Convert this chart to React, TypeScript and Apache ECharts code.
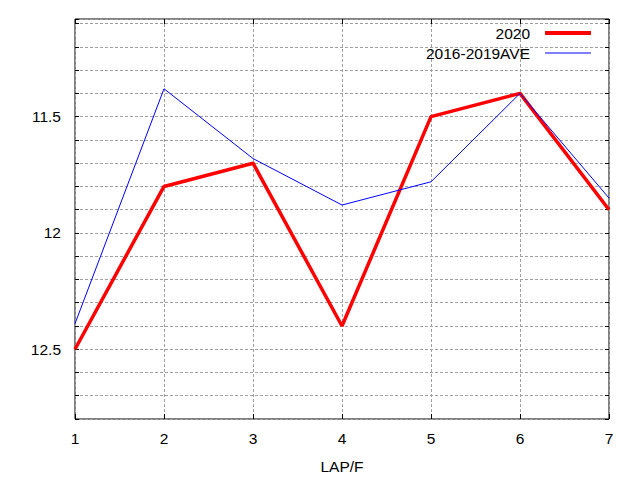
import React, { useEffect, useRef } from 'react';
import * as echarts from 'echarts';

// LAP/F の平均値（縦軸は反転）
const laps = [1, 2, 3, 4, 5, 6, 7];
const values2020 = [12.5, 11.8, 11.7, 12.4, 11.5, 11.4, 11.9];
const valuesAve = [12.39, 11.38, 11.68, 11.88, 11.78, 11.4, 11.85];
const seriesNames = ['2020', '2016-2019AVE'];

const FONT = '"Liberation Sans", Arial, sans-serif';
const FONT_SIZE = 15.5;
const GRID_COLOR = '#a0a0a0';

const yLabel = (v: number) => {
  const d = v * 2;
  return Math.abs(d - Math.round(d)) < 1e-6 ? String(Math.round(v * 10) / 10) : '';
};

const App: React.FC = () => {
  const chartRef = useRef<HTMLDivElement>(null);

  useEffect(() => {
    if (!chartRef.current) return;
    const chart = echarts.init(chartRef.current, undefined, { renderer: 'svg' });

    const yCommon = {
      type: 'value' as const,
      inverse: true,
      min: 11.08,
      max: 12.8,
      splitNumber: 17,
      minInterval: 0.1,
      maxInterval: 0.1,
      axisLine: { show: false },
      axisTick: { show: true, inside: true, length: 4, lineStyle: { color: '#000' } },
    };

    const option: echarts.EChartsOption = {
      animation: false,
      backgroundColor: '#fff',
      textStyle: { fontFamily: FONT },
      grid: {
        left: 75,
        right: 31,
        top: 19,
        bottom: 61,
        show: true,
        borderColor: '#000',
        borderWidth: 1,
        backgroundColor: 'transparent',
      },
      legend: {
        orient: 'vertical',
        align: 'right',
        right: 42,
        top: 20,
        itemWidth: 46,
        itemHeight: 14,
        itemGap: 4,
        data: [
          { name: seriesNames[0], lineStyle: { width: 4, color: '#ff0000' } },
          { name: seriesNames[1], lineStyle: { width: 1, color: '#0000ff' } },
        ],
        itemStyle: { opacity: 0 },
        textStyle: { fontFamily: FONT, fontSize: FONT_SIZE, color: '#000', padding: [0, 10, 0, 0] },
      },
      xAxis: [
        {
          type: 'value',
          min: 1,
          max: 7,
          interval: 1,
          name: 'LAP/F',
          nameLocation: 'middle',
          nameGap: 39,
          nameTextStyle: { fontFamily: FONT, fontSize: FONT_SIZE, color: '#000' },
          axisLine: { show: false },
          axisTick: { show: true, inside: true, length: 5, lineStyle: { color: '#000' } },
          axisLabel: { fontFamily: FONT, fontSize: FONT_SIZE, color: '#000', margin: 11 },
          splitLine: { show: true, lineStyle: { color: GRID_COLOR, type: [3, 2], width: 1 } },
        },
        {
          type: 'value',
          position: 'top',
          min: 1,
          max: 7,
          interval: 1,
          axisLine: { show: false },
          axisTick: { show: true, inside: true, length: 5, lineStyle: { color: '#000' } },
          axisLabel: { show: false },
          splitLine: { show: false },
        },
      ],
      yAxis: [
        {
          ...yCommon,
          position: 'left',
          axisLabel: {
            fontFamily: FONT,
            fontSize: FONT_SIZE,
            color: '#000',
            margin: 14,
            formatter: (v: number) => yLabel(v),
          },
          splitLine: { show: true, lineStyle: { color: GRID_COLOR, type: [3, 2], width: 1 } },
        },
        {
          ...yCommon,
          position: 'right',
          axisLabel: { show: false },
          splitLine: { show: false },
        },
      ],
      series: [
        {
          name: seriesNames[0],
          type: 'line',
          data: laps.map((x, i) => [x, values2020[i]]),
          symbol: 'none',
          lineStyle: { color: '#ff0000', width: 3.5 },
          itemStyle: { color: '#ff0000' },
          z: 3,
        },
        {
          name: seriesNames[1],
          type: 'line',
          data: laps.map((x, i) => [x, valuesAve[i]]),
          symbol: 'none',
          lineStyle: { color: '#0000ff', width: 1 },
          itemStyle: { color: '#0000ff' },
          z: 4,
        },
      ],
    };

    chart.setOption(option);
    return () => {
      chart.dispose();
    };
  }, []);

  return (
    <div
      ref={chartRef}
      style={{ position: 'fixed', left: 0, top: 0, width: 640, height: 480 }}
    />
  );
};

export default App;
